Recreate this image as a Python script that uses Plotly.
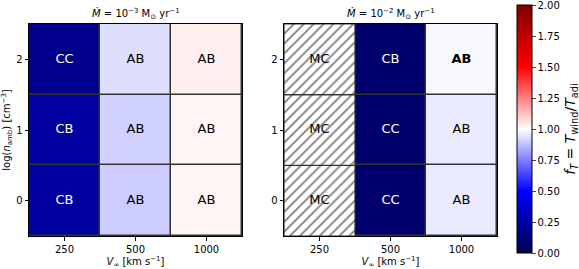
import plotly.graph_objects as go
import numpy as np

v_inf = ["250", "500", "1000"]
log_n = [0, 1, 2]
# f_T values, rows = log_n (0,1,2), cols = v_inf
fT_mdot3 = [
    [0.23, 0.90, 1.02],
    [0.23, 0.91, 1.02],
    [0.18, 0.935, 1.033],
]
fT_mdot2 = [
    [None, 0.09, 0.96],
    [None, 0.09, 0.96],
    [None, 0.09, 0.986],
]
lab_mdot3 = [
    ["CB", "AB", "AB"],
    ["CB", "AB", "AB"],
    ["CC", "AB", "AB"],
]
lab_mdot2 = [
    ["MC", "CC", "AB"],
    ["MC", "CC", "AB"],
    ["MC", "CB", "<b>AB</b>"],
]
titles = ["<i>Ṁ</i> = 10<sup>−3</sup> M<sub>⊙</sub> yr<sup>−1</sup>",
          "<i>Ṁ</i> = 10<sup>−2</sup> M<sub>⊙</sub> yr<sup>−1</sup>"]
cb_ticks = [0, 0.25, 0.5, 0.75, 1.0, 1.25, 1.5, 1.75, 2.0]

seismic = [[0, "rgb(0,0,77)"], [0.25, "rgb(0,0,255)"], [0.5, "rgb(255,255,255)"],
           [0.75, "rgb(255,0,0)"], [1, "rgb(128,0,0)"]]

FONT = "DejaVu Sans"
W, H = 579, 269
ML, MR, MT, MB = 29, 82, 24, 33
PW, PH = W - ML - MR, H - MT - MB
CMIN, CMAX = 0.0, 2.0


def px(x):
    return (x - ML) / PW


def py(y):
    return (H - MB - y) / PH


fig = go.Figure()
xi = list(range(len(v_inf)))

for k, (z, lab) in enumerate([(fT_mdot3, lab_mdot3), (fT_mdot2, lab_mdot2)]):
    xa = "x" if k == 0 else "x2"
    ya = "y" if k == 0 else "y2"
    zz = np.array([[np.nan if v is None else v for v in row] for row in z], dtype=float)
    fig.add_trace(go.Heatmap(
        x=xi, y=log_n, z=zz, coloraxis="coloraxis", xaxis=xa, yaxis=ya,
        xgap=1.5, ygap=1.5, hoverinfo="skip"))
    # hatched cells for missing values
    hx, hy, hb = [], [], []
    for r in range(len(log_n)):
        for c in xi:
            if z[r][c] is None:
                hx.append(c); hy.append(1); hb.append(log_n[r] - 0.5)
    if hx:
        fig.add_trace(go.Bar(
            x=hx, y=hy, base=hb, width=1, xaxis=xa, yaxis=ya,
            marker=dict(color="white", line=dict(color="#333", width=1.2),
                        pattern=dict(shape="/", fgcolor="black", bgcolor="white",
                                     size=7, solidity=0.26)),
            showlegend=False, hoverinfo="skip"))
    # labels
    tx, ty, tt, tc = [], [], [], []
    for r in range(len(log_n)):
        for c in xi:
            tx.append(c); ty.append(log_n[r]); tt.append(lab[r][c])
            v = z[r][c]
            tc.append("white" if (v is not None and v < 0.5) else "black")
    fig.add_trace(go.Scatter(
        x=tx, y=ty, text=tt, mode="text", xaxis=xa, yaxis=ya,
        textfont=dict(family=FONT, size=13, color=tc), showlegend=False, hoverinfo="skip"))

axis_common = dict(showline=True, linecolor="black", linewidth=1, mirror=True,
                   ticks="outside", ticklen=3.5, tickcolor="black",
                   tickfont=dict(family=FONT, size=10, color="black"),
                   showgrid=False, zeroline=False, automargin=False)
xtitle = dict(text="<i>V</i><sub>∞</sub> [km s<sup>−1</sup>]", font=dict(family=FONT, size=10, color="black"), standoff=4)
fig.update_layout(
    width=W, height=H, margin=dict(l=ML, r=MR, t=MT, b=MB, autoexpand=False),
    paper_bgcolor="white", plot_bgcolor="#333",
    font=dict(family=FONT, color="black"),
    barmode="overlay", showlegend=False,
    xaxis=dict(domain=[px(29), px(242)], range=[-0.5, 2.5], tickvals=xi, ticktext=v_inf,
               title=xtitle, **axis_common),
    yaxis=dict(domain=[0, 1], range=[-0.5, 2.5], tickvals=log_n, ticktext=[str(v) for v in log_n],
               title=dict(text="log(<i>n</i><sub>amb</sub>) [cm<sup>−3</sup>]",
                          font=dict(family=FONT, size=10, color="black"), standoff=6),
               **axis_common),
    xaxis2=dict(domain=[px(284), px(497)], range=[-0.5, 2.5], tickvals=xi, ticktext=v_inf, anchor="y2",
                title=xtitle, **axis_common),
    yaxis2=dict(domain=[0, 1], range=[-0.5, 2.5], tickvals=log_n, ticktext=[str(v) for v in log_n],
                anchor="x2", **axis_common),
    coloraxis=dict(
        colorscale=seismic, cmin=CMIN, cmax=CMAX,
        colorbar=dict(x=px(517), xanchor="left", xpad=0, ypad=0,
                      thickness=15, thicknessmode="pixels",
                      len=248 / PH, lenmode="fraction", y=py(129), yanchor="middle",
                      outlinecolor="black", outlinewidth=1,
                      ticks="outside", ticklen=3.5, tickmode="array", tickvals=cb_ticks,
                      ticktext=[f"{t:.2f}" for t in cb_ticks], ticklabeloverflow="allow",
                      tickfont=dict(family=FONT, size=10, color="black"),
                      title=dict(text="<i>f<sub>T</sub></i> = <i>T</i><sub>wind</sub>/<i>T</i><sub>adi</sub>",
                                 side="right", font=dict(family=FONT, size=14, color="black"))),
    ),
    annotations=[
        dict(text=titles[0], x=px((29 + 242) / 2), y=py(14), xref="paper", yref="paper",
             xanchor="center", showarrow=False, font=dict(family=FONT, size=10, color="black"), yanchor="middle"),
        dict(text=titles[1], x=px((284 + 497) / 2), y=py(14), xref="paper", yref="paper",
             xanchor="center", showarrow=False, font=dict(family=FONT, size=10, color="black"), yanchor="middle"),
    ],
)
fig.write_html("out.html", config={"displayModeBar": False})
with open("out.html", "r", encoding="utf-8") as f:
    html = f.read()
html = html.replace("<head>", "<head><style>html,body{margin:0;padding:0;overflow:hidden;}</style>", 1)
with open("out.html", "w", encoding="utf-8") as f:
    f.write(html)
